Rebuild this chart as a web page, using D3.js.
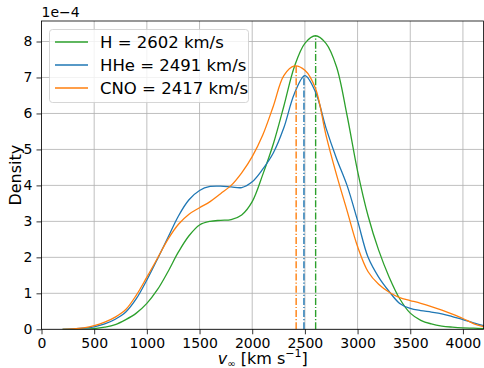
<!DOCTYPE html>
<html lang="en">
<head>
<meta charset="utf-8">
<title>v_inf density</title>
<script src="https://d3js.org/d3.v7.min.js"></script>
<style>
body { margin: 0; background: #fff; }
svg { font-family: "DejaVu Sans", sans-serif; display: block; }
</style>
</head>
<body>
<div id="plot"></div>
<script>
var width = 484, height = 368;
var margin = {left: 41.5, right: 0, top: 21, bottom: 38.7};

// velocity grid (km/s) and densities in units of 1e-4
var vel = [200,300,400,500,600,700,800,900,1000,1100,1200,1300,1400,1500,1600,1700,1800,1900,2000,2100,
           2200,2300,2400,2500,2600,2700,2800,2900,3000,3100,3200,3300,3400,3500,3600,3700,3800,3900,4000,4100,4200];
var densH   = [0,0,0.005,0.02,0.06,0.13,0.27,0.45,0.72,1.1,1.6,2.15,2.6,2.9,3.0,3.03,3.05,3.18,3.55,4.3,
               5.15,6.2,7.3,7.95,8.16,7.95,7.3,5.95,4.4,3.15,2.2,1.45,0.85,0.45,0.25,0.15,0.09,0.06,0.04,0.03,0.02];
var densHHe = [0,0.01,0.03,0.07,0.15,0.28,0.48,0.85,1.37,1.95,2.55,3.15,3.6,3.86,3.97,3.98,3.96,3.94,4.1,4.45,
               4.9,5.6,6.55,7.05,6.6,5.6,4.75,4.0,3.02,2.0,1.45,1.05,0.72,0.58,0.52,0.48,0.43,0.35,0.27,0.18,0.1];
var densCNO = [0,0.01,0.04,0.1,0.2,0.34,0.55,0.95,1.45,1.97,2.5,2.92,3.2,3.38,3.55,3.77,4.0,4.35,4.8,5.4,
               6.2,7.05,7.32,7.2,6.7,5.4,4.3,3.3,2.3,1.6,1.25,1.03,0.88,0.8,0.72,0.63,0.53,0.42,0.3,0.16,0.07];

var names = ["H", "HHe", "CNO"];
var peakVel = [2602, 2491, 2417];
var peakDens = [8.16, 7.05, 7.32];
var colors = ["#2ca02c", "#1f77b4", "#ff7f0e"];
var xTicks = [0,500,1000,1500,2000,2500,3000,3500,4000];
var yTicks = [0,1,2,3,4,5,6,7,8];

var series = [densH, densHHe, densCNO].map(function(d, i) {
  return {name: names[i], color: colors[i], peak: peakVel[i], peakY: peakDens[i],
          pts: vel.map(function(v, j) { return [v, d[j]]; })};
});

var svg = d3.select("#plot").append("svg")
  .attr("width", width).attr("height", height);

var x = d3.scaleLinear().domain([0, 4200]).range([margin.left, width - margin.right]);
var y = d3.scaleLinear().domain([0, 8.57]).range([height - margin.bottom, margin.top]);

svg.append("clipPath").attr("id", "clip").append("rect")
  .attr("x", x(0)).attr("y", y(8.57)).attr("width", x(4200) - x(0)).attr("height", y(0) - y(8.57));

// grid
svg.append("g").selectAll("line").data(xTicks).enter().append("line")
  .attr("x1", d => x(d)).attr("x2", d => x(d)).attr("y1", y(0)).attr("y2", y(8.57))
  .attr("stroke", "#b0b0b0").attr("stroke-width", 0.8);
svg.append("g").selectAll("line").data(yTicks).enter().append("line")
  .attr("x1", x(0)).attr("x2", x(4200)).attr("y1", d => y(d)).attr("y2", d => y(d))
  .attr("stroke", "#b0b0b0").attr("stroke-width", 0.8);

var line = d3.line().x(d => x(d[0])).y(d => y(d[1])).curve(d3.curveCatmullRom.alpha(0.5));
var plot = svg.append("g").attr("clip-path", "url(#clip)");
series.forEach(function(s) {
  plot.append("path").datum(s.pts).attr("d", line)
    .attr("fill", "none").attr("stroke", s.color).attr("stroke-width", 1.3);
  plot.append("line")
    .attr("x1", x(s.peak)).attr("x2", x(s.peak)).attr("y1", y(0)).attr("y2", y(s.peakY))
    .attr("stroke", s.color).attr("stroke-width", 1.4).attr("stroke-dasharray", "7,2,1.2,2");
});

// axes
var xAxis = svg.append("g").attr("transform", "translate(0," + y(0) + ")")
  .call(d3.axisBottom(x).tickValues(xTicks).tickSize(5).tickPadding(4).tickFormat(d3.format("d")));
var yAxis = svg.append("g").attr("transform", "translate(" + x(0) + ",0)")
  .call(d3.axisLeft(y).tickValues(yTicks).tickSize(5).tickPadding(4).tickFormat(d3.format("d")));
[xAxis, yAxis].forEach(function(a) {
  a.select(".domain").remove();
  a.selectAll("text").attr("font-size", 14).attr("fill", "#000").attr("font-family", "DejaVu Sans");
  a.selectAll("line").attr("stroke", "#000").attr("stroke-width", 0.8);
});

// frame
svg.append("rect").attr("x", x(0)).attr("y", y(8.57))
  .attr("width", x(4200) - x(0) - 0.5).attr("height", y(0) - y(8.57))
  .attr("fill", "none").attr("stroke", "#000").attr("stroke-width", 0.8);

// offset text
svg.append("text").attr("x", x(0)).attr("y", 17).attr("font-size", 14).text("1e\u22124");

// axis labels
svg.append("text").attr("transform", "translate(21," + ((y(0) + y(8.57)) / 2) + ") rotate(-90)")
  .attr("text-anchor", "middle").attr("font-size", 16).text("Density");
var xl = svg.append("text").attr("x", (x(0) + x(4200)) / 2).attr("y", 364)
  .attr("text-anchor", "middle").attr("font-size", 16);
xl.append("tspan").attr("font-style", "italic").text("v");
xl.append("tspan").attr("font-size", 10).attr("dy", 3).text("\u221e");
xl.append("tspan").attr("dy", -3).text(" [km s");
xl.append("tspan").attr("font-size", 11).attr("dy", -7).text("\u22121");
xl.append("tspan").attr("dy", 7).text("]");

// legend
var lg = svg.append("g");
lg.append("rect").attr("x", 49.5).attr("y", 29.5).attr("width", 199).attr("height", 73).attr("rx", 3)
  .attr("fill", "#fff").attr("fill-opacity", 0.8).attr("stroke", "#cccccc").attr("stroke-width", 0.8);
series.forEach(function(s, i) {
  var yy = 42 + i * 23;
  lg.append("line").attr("x1", 55).attr("x2", 88).attr("y1", yy).attr("y2", yy)
    .attr("stroke", s.color).attr("stroke-width", 1.3);
  lg.append("text").attr("x", 100).attr("y", yy + 6).attr("font-size", 16.5)
    .text(s.name + " = " + s.peak + " km/s");
});
</script>
</body>
</html>
